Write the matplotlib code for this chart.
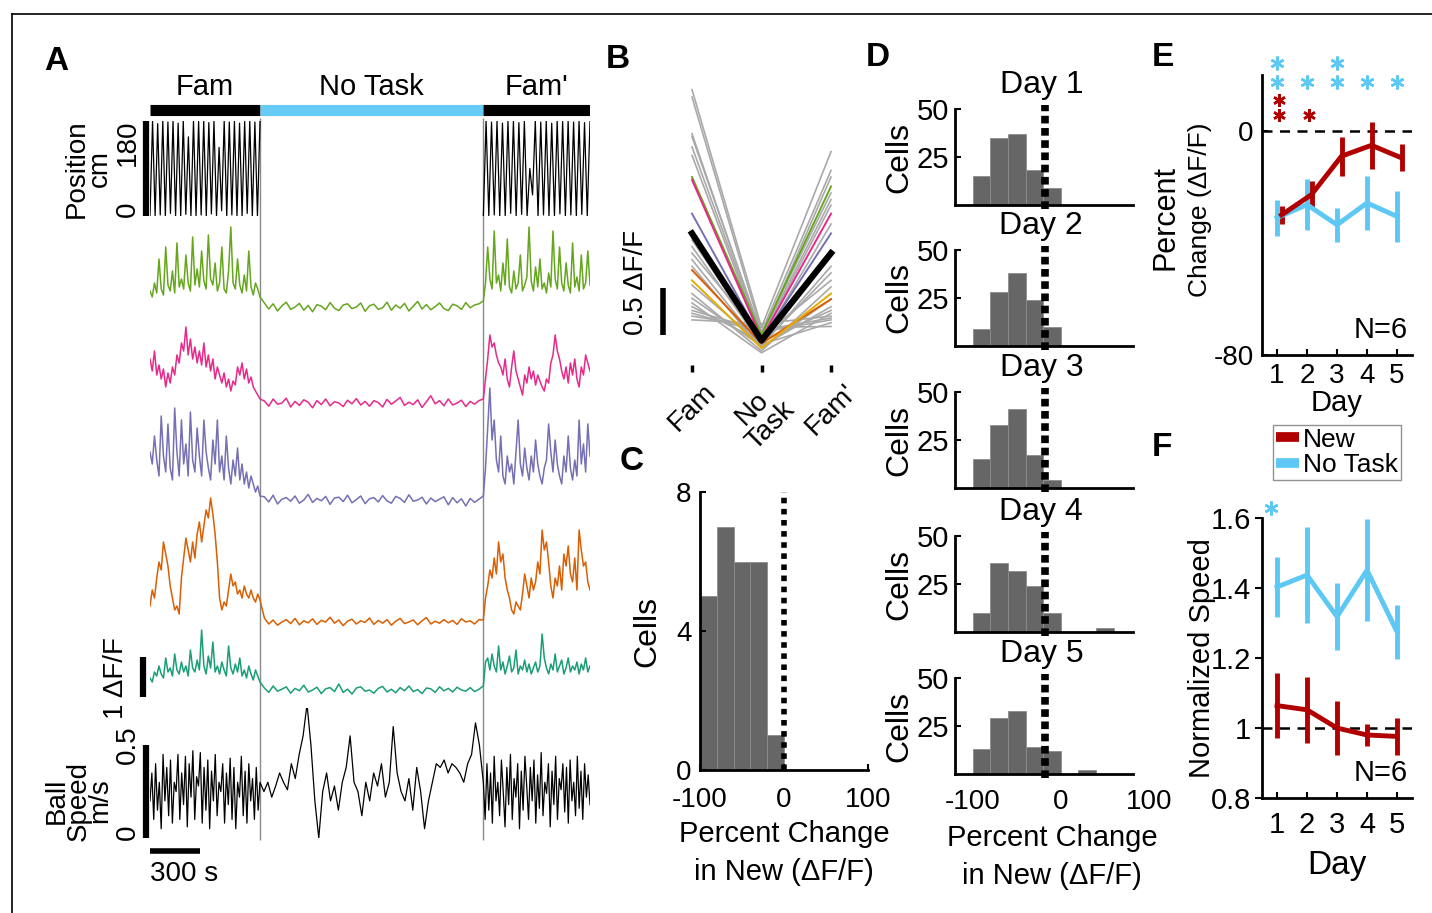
import numpy as np
import matplotlib
matplotlib.use("Agg")
import matplotlib.pyplot as plt
from matplotlib.lines import Line2D

plt.rcParams['font.family'] = ['Liberation Sans', 'DejaVu Sans']
plt.rcParams['font.size'] = 20
plt.rcParams['axes.unicode_minus'] = False

# ---------------- data ----------------
# A: session phases (s)
phase_edges = [0, 660, 2000, 2640]
phase_names = ['Fam', 'No Task', "Fam'"]
phase_colors = ['black', '#66CCF5', 'black']

# position turnarounds (cm) in Fam and Fam'
pos_fam = [0, 180, 0, 175, 2, 180, 0, 178, 5, 180, 0, 176, 0, 180, 3, 150, 0, 180, 0, 179, 2, 180,
           0, 177, 4, 180, 0, 130, 10, 180, 0, 178, 2, 180, 0, 176, 0, 180, 5, 180, 0, 178, 0, 180]
pos_fam2 = [0, 180, 0, 178, 2, 180, 0, 176, 0, 180, 5, 180, 0, 177, 3, 180, 0, 90, 40, 180,
            0, 178, 2, 180, 0, 176, 0, 180, 4, 179, 0, 180, 2, 178, 0, 180, 3, 177, 0, 180]

# dF/F traces (x100) for 5 cells: Fam, No Task, Fam'
green_fam = [40, 25, 60, 35, 120, 45, 30, 150, 55, 40, 90, 35, 160, 50, 70, 45, 130, 60, 40, 175, 55, 95, 50, 140, 65,
             45, 180, 70, 55, 110, 40, 60, 150, 45, 35, 90, 200, 60, 45, 120, 55, 35, 80, 40, 140, 50, 30, 60, 45, 25]
green_nt = [10, -5, 8, -10, 3, 12, -6, 0, 9, -8, 4, -12, 6, 2, -7, 11, -3, -9, 5, 8, -4, 0, 10, -11, 3,
            7, -6, -2, 12, -8, 5, -3, 9, -10, 2, 14, -5, 6, -7, 1, 10, -4, -9, 7, 3, -6, 11, -2, 5, 8]
green_fam2 = [15, 60, 150, 70, 45, 190, 60, 80, 40, 110, 55, 170, 50, 35, 90, 45, 60, 130, 40, 55, 75, 200, 65, 40, 100,
              50, 120, 45, 60, 35, 85, 50, 190, 70, 45, 150, 60, 40, 110, 55, 35, 160, 50, 75, 40, 130, 45, 60, 140, 55]

pink_fam = [110, 80, 130, 70, 95, 60, 85, 40, 75, 50, 90, 70, 120, 100, 150, 130, 190, 120, 160, 110, 140, 100, 130, 95, 150,
            90, 120, 80, 110, 60, 90, 70, 50, 75, 40, 60, 30, 55, 45, 90, 70, 100, 60, 85, 50, 65, 40, 30, 20, 10]
pink_nt = [5, -8, 10, -3, 0, 12, -10, 4, -6, 8, 2, -12, 6, -4, 10, -7, 3, 0, -9, 7, -2, 11, -5, 4, -8,
           6, 1, -10, 9, -3, 5, 14, -6, 2, -4, 8, -11, 3, 18, -2, 6, -7, 10, -5, 0, 7, -9, 4, -3, 6]
pink_fam2 = [10, 60, 110, 170, 140, 150, 120, 100, 90, 70, 110, 60, 40, 90, 130, 80, 60, 40, 20, 70, 50, 90, 60, 80, 45,
             70, 55, 40, 30, 60, 50, 100, 120, 170, 130, 110, 80, 60, 90, 50, 100, 70, 110, 60, 40, 90, 70, 120, 100, 80]

purple_fam = [120, 90, 160, 100, 60, 210, 110, 70, 190, 80, 50, 230, 120, 60, 200, 90, 140, 60, 220, 100, 70, 180, 110, 60, 200,
              120, 80, 50, 150, 90, 200, 70, 110, 50, 160, 80, 40, 100, 60, 130, 50, 90, 40, 70, 30, 60, 40, 20, 35, 10]
purple_nt = [8, -5, 12, -10, 2, 6, -3, 10, -8, 0, 14, -6, 4, -2, 9, -11, 5, 7, -4, 12, -7, 1, 10, -9, 3,
             6, -5, 11, -2, -8, 9, 4, -6, 13, -3, 0, 7, -10, 5, -4, 2, 8, -12, 6, -7, 3, -15, 4, -6, 2]
purple_fam2 = [10, 80, 180, 280, 150, 200, 100, 70, 160, 60, 40, 110, 70, 90, 40, 120, 200, 90, 60, 130, 80, 50, 110, 70, 150,
               90, 60, 40, 80, 100, 190, 120, 70, 150, 90, 60, 40, 110, 70, 160, 80, 50, 100, 60, 200, 90, 140, 70, 190, 110]

orange_fam = [40, 80, 60, 110, 150, 130, 200, 170, 140, 90, 60, 30, 40, 20, 110, 160, 210, 180, 150, 200, 160, 220, 250, 200, 240,
              280, 260, 310, 270, 220, 150, 60, 30, 50, 40, 80, 120, 90, 100, 70, 80, 60, 90, 70, 60, 80, 60, 50, 70, 55]
orange_nt = [10, -5, 5, -8, 0, 6, -4, 9, -7, 3, -2, 8, -6, 4, 0, 12, -3, 5, -9, 2, 7, -5, 3, -1, 10,
             -6, 4, -3, 6, -8, 2, 9, -4, 0, 5, -7, 3, 11, -5, 2, -3, 6, -2, 4, -6, 8, 0, 3, -5, 6]
orange_fam2 = [5, 60, 90, 130, 110, 160, 120, 200, 150, 170, 110, 80, 60, 30, 20, 50, 40, 30, 70, 120, 90, 60, 110, 80, 100,
               150, 120, 230, 180, 200, 150, 90, 60, 110, 90, 140, 80, 170, 140, 190, 120, 100, 160, 80, 230, 180, 140, 150, 100, 80]

teal_fam = [30, 20, 45, 35, 60, 40, 30, 80, 45, 55, 35, 90, 50, 40, 70, 45, 60, 35, 100, 55, 45, 75, 50, 150, 60,
            40, 85, 55, 120, 45, 60, 40, 70, 50, 35, 110, 55, 40, 65, 45, 80, 35, 50, 30, 60, 40, 25, 50, 35, 20]
teal_nt = [5, -6, 10, -3, 2, 8, -8, 4, -2, 12, -5, 0, 7, -9, 3, 6, -4, 15, -6, 2, -10, 5, 8, -3, 0,
           -8, 4, 9, -5, 2, -7, 6, -2, 10, -4, 1, -9, 5, 3, -6, 8, -2, 4, -5, 7, 0, -3, 6, -4, 2]
teal_fam2 = [10, 70, 80, 50, 90, 60, 45, 110, 50, 70, 40, 60, 85, 45, 55, 100, 40, 60, 50, 75, 45, 65, 40, 55, 70,
             45, 60, 140, 80, 55, 40, 65, 50, 90, 45, 60, 75, 40, 55, 80, 45, 60, 50, 70, 40, 65, 50, 80, 45, 60]

# ball speed (cm/s)
speed_fam = [20, 35, 10, 40, 15, 30, 5, 45, 20, 38, 12, 42, 8, 30, 25, 45, 10, 35, 18, 44, 6, 40, 22, 47, 10, 33, 28, 46, 8, 38,
             15, 42, 5, 36, 20, 45, 12, 30, 25, 40, 8, 35, 18, 43, 10, 38, 5, 30, 22, 44, 12, 36, 8, 40, 20, 32, 10, 38, 15, 30]
speed_nt = [25, 30, 22, 28, 35, 30, 26, 40, 32, 45, 55, 72, 50, 20, 0, 25, 35, 20, 28, 15, 30, 38, 55, 30, 25, 12, 30, 20,
            35, 28, 40, 22, 30, 60, 35, 25, 20, 32, 15, 38, 25, 5, 20, 30, 40, 38, 42, 35, 40, 38, 35, 30, 40, 45, 62, 50]
speed_fam2 = [30, 10, 40, 15, 35, 8, 44, 20, 30, 12, 42, 25, 6, 38, 18, 45, 10, 32, 22, 40, 5, 36, 15, 44, 28, 10, 38, 20, 42, 8,
              34, 16, 46, 12, 30, 24, 40, 6, 36, 18, 44, 10, 32, 26, 40, 14, 38, 8, 42, 20, 30, 12, 44, 16, 36, 10, 40, 22, 34, 18]

# B: mean dF/F per epoch
b_labels = ['Fam', 'No\nTask', "Fam'"]
b_gray = [[2.93, 0.40, 2.27], [2.85, 0.35, 2.07], [2.46, 0.30, 2.00], [2.43, 0.33, 1.83], [2.32, 0.30, 1.76],
          [2.23, 0.28, 1.70], [1.33, 0.25, 1.50], [1.26, 0.22, 0.98], [1.19, 0.30, 0.90], [1.12, 0.20, 1.05],
          [0.76, 0.15, 0.83], [0.71, 0.20, 0.62], [0.66, 0.13, 0.55], [0.62, 0.25, 0.58], [0.55, 0.35, 0.48],
          [0.52, 0.40, 0.41], [0.48, 0.44, 0.52], [1.05, 0.18, 0.70], [0.85, 0.22, 0.45], [0.58, 0.37, 0.50]]
b_colored = [[2.00, 0.32, 1.90], [1.97, 0.28, 1.61], [1.61, 0.27, 1.40], [1.01, 0.23, 0.70], [0.90, 0.18, 0.76]]
b_colors = ['#66A61E', '#E7298A', '#7570B3', '#D95F02', '#E6AB02']
b_mean = [1.40, 0.26, 1.19]

# C: histogram of percent change
c_edges = [-100, -80, -60, -40, -20, 0]
c_counts = [5, 7, 6, 6, 1]

# D: per-day histograms (bins of 20 from -100)
d_edges = [-100, -80, -60, -40, -20, 0, 20, 40, 60]
d_counts = [[15, 35, 37, 18, 9, 0, 0, 0],
            [9, 28, 38, 24, 10, 0, 0, 0],
            [15, 33, 41, 17, 4, 0, 0, 0],
            [10, 36, 32, 24, 10, 0, 0, 2],
            [13, 29, 33, 14, 12, 0, 2, 0]]
d_line = -18

# E: percent change per day
days = [1, 2, 3, 4, 5]
e_new = [-30, -22.7, -9, -5.1, -9.6]
e_new_err = [3.3, 4.8, 6.9, 8.4, 4.8]
e_nt = [-31, -26.3, -33.5, -25.7, -30.5]
e_nt_err = [6.5, 9, 6, 9.6, 9]
e_sig_nt = [2, 1, 2, 1, 1]
e_sig_new = [2, 1, 0, 0, 0]

# F: normalized speed
f_new = [1.064, 1.052, 1.000, 0.980, 0.976]
f_new_err = [0.092, 0.095, 0.077, 0.031, 0.054]
f_nt = [1.403, 1.437, 1.318, 1.451, 1.275]
f_nt_err = [0.085, 0.136, 0.095, 0.145, 0.077]
f_sig_nt = [1, 0, 0, 0, 0]

RED = '#B00000'
BLUE = '#5EC8F5'

# ---------------- figure ----------------
W, H = 1432, 913
fig = plt.figure(figsize=(W / 100, H / 100), dpi=100)


def px_axes(x0, y0, x1, y1):
    # axes placed by pixel box (top-left origin)
    ax = fig.add_axes([x0 / W, 1 - y1 / H, (x1 - x0) / W, (y1 - y0) / H])
    ax.patch.set_alpha(0)
    return ax


def letter(x, y, s):
    fig.text(x / W, 1 - y / H, s, fontsize=24, fontweight='bold', ha='center', va='center')


fig.add_artist(Line2D([12 / W, 1], [1 - 14 / H] * 2, color='black', lw=1.2))
fig.add_artist(Line2D([12 / W] * 2, [0, 1 - 14 / H], color='black', lw=1.2))

# ---------- A ----------
letter(56, 62, 'A')
t0, t1, t2, t3 = phase_edges


def seg_times(a, b, c):
    return np.concatenate([np.linspace(t0, t1, len(a)),
                           np.linspace(t1, t2, len(b) + 2)[1:-1],
                           np.linspace(t2, t3, len(c))])


axo = px_axes(150, 60, 590, 900)
axo.set_xlim(t0, t3)
axo.set_ylim(900, 60)
axo.axis('off')
for i in range(3):
    axo.plot([phase_edges[i], phase_edges[i + 1]], [110, 110], color=phase_colors[i], lw=8,
             solid_capstyle='butt')
    axo.text((phase_edges[i] + phase_edges[i + 1]) / 2, 87, phase_names[i], ha='center', va='center', fontsize=21)
axo.vlines([t1, t2], 118, 840, color='#8a8a8a', lw=1)
axo.plot([0, 300], [851, 851], color='black', lw=4, solid_capstyle='butt')
axo.text(0, 874, '300 s', ha='left', va='center', fontsize=20)

# position
axp = px_axes(150, 121, 590, 216)
axp.set_xlim(t0, t3)
axp.set_ylim(0, 180)
axp.axis('off')
axp.plot(np.linspace(t0, t1, len(pos_fam)), pos_fam, color='black', lw=0.9)
axp.plot(np.linspace(t2, t3, len(pos_fam2)), pos_fam2, color='black', lw=0.9)
axp.plot([-24, -24], [0, 180], color='black', lw=4.5, solid_capstyle='butt', clip_on=False)
axp.text(-130, 182, '180', rotation=90, ha='center', va='top', clip_on=False)
axp.text(-130, -2, '0', rotation=90, ha='center', va='bottom', clip_on=False)
axp.text(-370, 90, 'Position\ncm', rotation=90, ha='center', va='center', linespacing=0.85, clip_on=False)

# dF/F traces
cells = [('#66A61E', green_fam, green_nt, green_fam2, 307, (-30, 220)),
         ('#E7298A', pink_fam, pink_nt, pink_fam2, 403, (-30, 200)),
         ('#7570B3', purple_fam, purple_nt, purple_fam2, 500, (-30, 290)),
         ('#D95F02', orange_fam, orange_nt, orange_fam2, 622, (-30, 320)),
         ('#1B9E77', teal_fam, teal_nt, teal_fam2, 690, (-30, 180))]
for col, a, b, c, base, yl in cells:
    ax = px_axes(150, base - yl[1] * 0.4, 590, base - yl[0] * 0.4)
    ax.set_xlim(t0, t3)
    ax.set_ylim(*yl)
    ax.axis('off')
    ax.plot(seg_times(a, b, c), np.concatenate([a, b, c]), color=col, lw=1.1)
    if col == '#1B9E77':
        ax.plot([-42, -42], [-18, 82], color='black', lw=4.5, solid_capstyle='butt', clip_on=False)
        ax.text(-205, 30, '1 \u0394F/F', rotation=90, ha='center', va='center', fontsize=20, clip_on=False)

# ball speed
axs = px_axes(150, 708, 590, 838)
axs.set_xlim(t0, t3)
axs.set_ylim(0, 70)
axs.axis('off')
axs.plot(seg_times(speed_fam, speed_nt, speed_fam2), np.concatenate([speed_fam, speed_nt, speed_fam2]),
         color='black', lw=0.9)
axs.plot([-24, -24], [0, 50], color='black', lw=4.5, solid_capstyle='butt', clip_on=False)
axs.text(-130, 50, '0.5', rotation=90, ha='center', va='center', clip_on=False)
axs.text(-130, -1, '0', rotation=90, ha='center', va='bottom', clip_on=False)
axs.text(-430, 20, 'Ball\nSpeed\nm/s', rotation=90, ha='center', va='center', linespacing=0.8, clip_on=False)

# ---------- B ----------
letter(618, 60, 'B')
axB = px_axes(680, 80, 845, 365)
axB.set_xlim(1 - 12 / 69.5, 3 + 14 / 69.5)
axB.set_ylim(0, 285 / 94)
for row in b_gray:
    axB.plot([1, 2, 3], row, color='#a9a9a9', lw=1.2)
for row, c in zip(b_colored, b_colors):
    axB.plot([1, 2, 3], row, color=c, lw=1.4)
axB.plot([1, 2, 3], b_mean, color='black', lw=4.5)
for s in axB.spines.values():
    s.set_visible(False)
axB.set_yticks([])
axB.set_xticks([1, 2, 3])
axB.set_xticklabels(b_labels, rotation=45, ha='center', fontsize=20, linespacing=0.95)
axB.tick_params(axis='x', direction='out', length=5, width=2.5, pad=5)
axB.plot([0.583, 0.583], [0.32, 0.82], color='black', lw=4, solid_capstyle='butt', clip_on=False)
axB.text(0.19, 0.32, '0.5 \u0394F/F', rotation=90, ha='center', va='bottom', fontsize=20, clip_on=False)

# ---------- C ----------
letter(632, 462, 'C')
axC = px_axes(700, 492, 868, 770)
axC.bar(c_edges[:-1], c_counts, width=np.diff(c_edges), align='edge', color='#666666',
        edgecolor='#8c8c8c', lw=0.6)
axC.plot([0, 0], [0, 8], color='black', lw=4, dashes=(1, 1), clip_on=False)
axC.set_xlim(-100, 100)
axC.set_ylim(0, 8)
axC.set_xticks([-100, 0, 100])
axC.set_yticks([0, 4, 8])
axC.spines['top'].set_visible(False)
axC.spines['right'].set_visible(False)
for s in ('left', 'bottom'):
    axC.spines[s].set_linewidth(2)
axC.tick_params(direction='in', length=4, width=1.5, labelsize=20)
axC.tick_params(axis='x', pad=12)
axC.tick_params(axis='y', pad=6)
axC.set_ylabel('Cells', fontsize=23, labelpad=10)
axC.set_xlabel('Percent Change\nin New (\u0394F/F)', fontsize=21, linespacing=1.45, labelpad=5)

# ---------- D ----------
letter(878, 58, 'D')
d_bottoms = [205, 346, 488, 632, 774]
for k, (bot, counts) in enumerate(zip(d_bottoms, d_counts)):
    ax = px_axes(955, bot - 96, 1149, bot)
    ax.bar(d_edges[:-1], counts, width=np.diff(d_edges), align='edge', color='#666666',
           edgecolor='#8c8c8c', lw=0.6)
    ax.plot([d_line, d_line], [-2, 52], color='black', lw=5.5, dashes=(1, 0.6), clip_on=False)
    ax.set_xlim(-120, 100)
    ax.set_ylim(0, 50)
    ax.spines['top'].set_visible(False)
    ax.spines['right'].set_visible(False)
    ax.spines['bottom'].set_bounds(-120, 82)
    for s in ('left', 'bottom'):
        ax.spines[s].set_linewidth(2)
    ax.set_yticks([25, 50])
    ax.tick_params(axis='y', direction='in', length=4, width=1.5, labelsize=21, pad=4)
    ax.set_xticks([-100, 0, 100])
    ax.tick_params(axis='x', length=0, labelsize=20, pad=11)
    ax.text(0.445, 1.25, 'Day %d' % days[k], transform=ax.transAxes, fontsize=23,
            ha='center', va='center')
    ax.set_ylabel('Cells', fontsize=23, labelpad=2)
    if k < 4:
        ax.set_xticklabels([])
    else:
        ax.set_xlabel('Percent Change\nin New (\u0394F/F)', fontsize=21, linespacing=1.45, labelpad=6)

# ---------- E ----------
letter(1163, 58, 'E')
axE = px_axes(1262, 75, 1412, 355)
axE.axhline(0, color='black', lw=1.8, dashes=(4, 3))
axE.errorbar(days, e_nt, yerr=e_nt_err, color=BLUE, lw=3.5, elinewidth=3.5, capsize=0)
axE.errorbar(np.array(days) + 0.15, e_new, yerr=e_new_err, color=RED, lw=3.5, elinewidth=3.5, capsize=0)
for d, n in zip(days, e_sig_nt):
    for j in range(n):
        axE.plot(d, 17.6 + 6.7 * j, marker=(6, 2, 0), ms=10, mew=1.8, color=BLUE, clip_on=False)
for d, n in zip(days, e_sig_new):
    for j in range(n):
        axE.plot(d + 0.05, 5.6 + 5.4 * j, marker=(6, 2, 0), ms=9, mew=1.8, color=RED, clip_on=False)
axE.set_xlim(0.5, 5.5)
axE.set_ylim(-80, 20)
axE.set_xticks(days)
axE.set_yticks([-80, 0])
axE.spines['top'].set_visible(False)
axE.spines['right'].set_visible(False)
for s in ('left', 'bottom'):
    axE.spines[s].set_linewidth(2)
axE.tick_params(direction='in', length=4, width=1.5, labelsize=20, pad=6)
axE.set_xlabel('Day', fontsize=21, labelpad=0)
axE.text(0.97, 0.04, 'N=6', transform=axE.transAxes, ha='right', va='bottom', fontsize=21)
fig.text(1165 / W, 1 - 217 / H, 'Percent', rotation=90, ha='center', va='center', fontsize=22)
fig.text(1200 / W, 1 - 210 / H, 'Change (\u0394F/F)', rotation=90, ha='center', va='center', fontsize=19)

# ---------- F ----------
letter(1162, 447, 'F')
axF = px_axes(1262, 518, 1412, 798)
axF.axhline(1, color='black', lw=1.8, dashes=(4, 3))
axF.errorbar(days, f_nt, yerr=f_nt_err, color=BLUE, lw=3.5, elinewidth=3.5, capsize=0, label='No Task')
axF.errorbar(days, f_new, yerr=f_new_err, color=RED, lw=3.5, elinewidth=3.5, capsize=0, label='New')
for d, n in zip(days, f_sig_nt):
    for j in range(n):
        axF.plot(d - 0.2, 1.63, marker=(6, 2, 0), ms=10, mew=1.8, color=BLUE, clip_on=False)
axF.set_xlim(0.5, 5.5)
axF.set_ylim(0.8, 1.6)
axF.set_xticks(days)
axF.set_yticks([0.8, 1, 1.2, 1.4, 1.6])
axF.set_yticklabels(['0.8', '1', '1.2', '1.4', '1.6'])
axF.spines['top'].set_visible(False)
axF.spines['right'].set_visible(False)
for s in ('left', 'bottom'):
    axF.spines[s].set_linewidth(2)
axF.tick_params(axis='x', direction='in', length=4, width=1.5, labelsize=21, pad=9)
axF.tick_params(axis='y', direction='out', length=5, width=1.5, labelsize=21, pad=3)
axF.set_xlabel('Day', fontsize=24, labelpad=8)
axF.set_ylabel('Normalized Speed', fontsize=21, labelpad=-4)
axF.text(0.97, 0.04, 'N=6', transform=axF.transAxes, ha='right', va='bottom', fontsize=21)

handles = [Line2D([], [], color=RED, lw=7, solid_capstyle='butt'),
           Line2D([], [], color=BLUE, lw=7, solid_capstyle='butt')]
leg = fig.legend(handles, ['New', 'No Task'], loc='upper left', bbox_to_anchor=(1273 / W, 1 - 425 / H),
                 fontsize=19, frameon=True, fancybox=False, handlelength=0.9, handletextpad=0.15,
                 borderpad=0.1, labelspacing=0.05, borderaxespad=0)
leg.get_frame().set_edgecolor('#777777')
leg.get_frame().set_linewidth(1)

fig.savefig('out.png', dpi=100)
